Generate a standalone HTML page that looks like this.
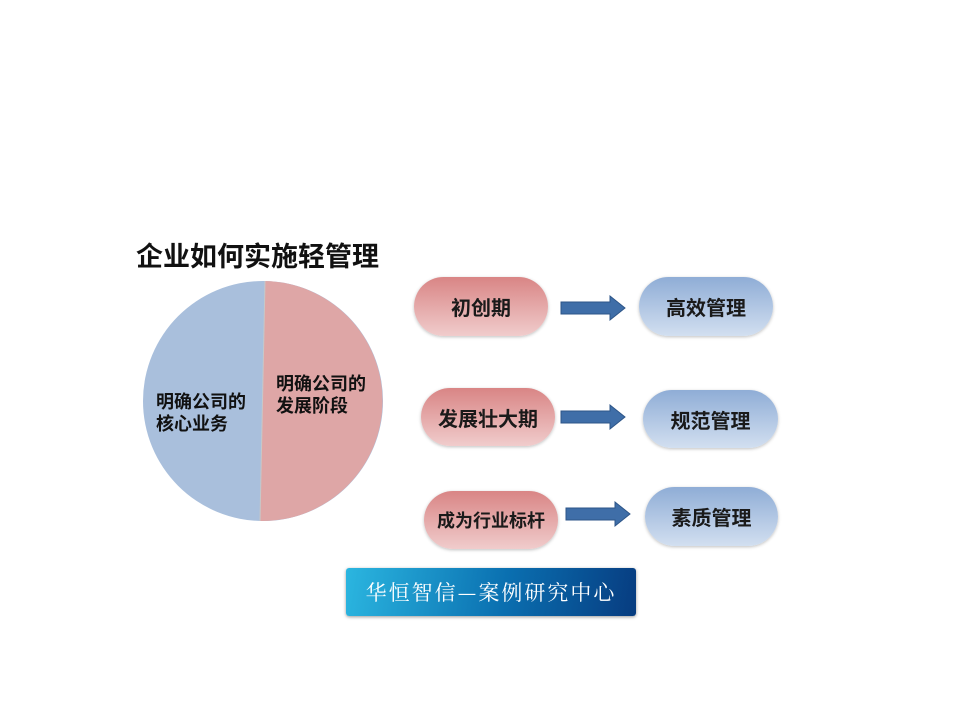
<!DOCTYPE html>
<html><head><meta charset="utf-8"><style>
body{margin:0;width:960px;height:720px;background:#fff;position:relative;overflow:hidden;font-family:"Liberation Sans","Noto Sans CJK SC",sans-serif}
.t{position:absolute;font-weight:bold;color:#111}
.p{position:absolute;border-radius:30px;display:flex;align-items:center;justify-content:center;font-weight:bold;font-size:20px;color:#1a1a1a;box-shadow:0 1px 3px rgba(0,0,0,.25)}
.r{background:linear-gradient(#d98585,#f0cccc)}
.b{background:linear-gradient(#8fadd6,#d2dff0)}
</style></head><body>
<div class="t" style="left:136px;top:235px;font-size:27px">企业如何实施轻管理</div>
<svg style="position:absolute;left:0;top:0" width="960" height="720">
<circle cx="263" cy="401" r="120" fill="#a9bfdc"/>
<path d="M265 281 A120 120 0 0 1 260 521 Z" fill="#dea6a6"/>
<line x1="265" y1="281" x2="260" y2="521" stroke="#c8c8c8" stroke-width="1"/>
<g fill="#3f6ea8" stroke="#2d5588" stroke-width="1">
<path d="M561 302H610V296L625 308L610 320V314H561Z"/>
<path d="M561 411H610V405L625 417L610 429V423H561Z"/>
<path d="M566 508H615V502L630 514L615 526V520H566Z"/>
</g>
</svg>
<div class="t" style="left:156px;top:391px;font-size:18px;line-height:22px">明确公司的<br>核心业务</div>
<div class="t" style="left:276px;top:373px;font-size:18px;line-height:22px">明确公司的<br>发展阶段</div>
<div class="p r" style="left:414px;top:277px;width:134px;height:59px">初创期</div>
<div class="p b" style="left:639px;top:277px;width:134px;height:59px">高效管理</div>
<div class="p r" style="left:421px;top:388px;width:134px;height:58px">发展壮大期</div>
<div class="p b" style="left:643px;top:390px;width:135px;height:58px">规范管理</div>
<div class="p r" style="left:424px;top:491px;width:134px;height:58px;font-size:18px">成为行业标杆</div>
<div class="p b" style="left:645px;top:487px;width:133px;height:59px">素质管理</div>
<div style="position:absolute;left:346px;top:568px;width:290px;height:48px;background:linear-gradient(100deg,#2bb6e0,#0a6fb0 55%,#073c80);border-radius:3px;box-shadow:0 1px 3px rgba(0,0,0,.4);display:flex;align-items:center;justify-content:center;color:#fff;font-family:'Noto Serif CJK SC',serif;font-size:21px;letter-spacing:2px">华恒智信—案例研究中心</div>
</body></html>
